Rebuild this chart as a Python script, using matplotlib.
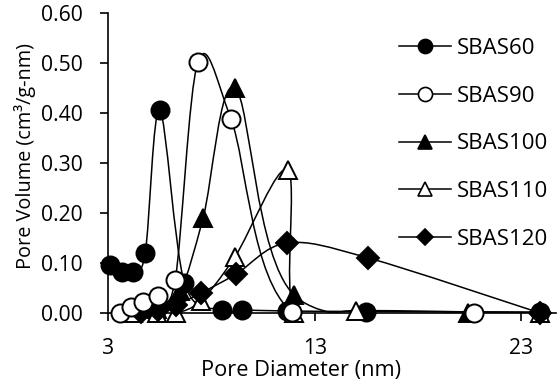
import numpy as np
import matplotlib
matplotlib.use("Agg")
import matplotlib.pyplot as plt
from matplotlib.path import Path
from matplotlib.patches import PathPatch
from matplotlib.lines import Line2D

plt.rcParams['font.family'] = ['Open Sans', 'DejaVu Sans']

# ---- data ----
d60 = [3.1, 3.66, 4.2, 4.8, 5.5, 6.7, 8.5, 9.5, 11.65, 15.5, 23.9]
v60 = [0.096, 0.083, 0.083, 0.12, 0.406, 0.06, 0.006, 0.006, 0.004, 0.003, 0.002]

d90 = [3.6, 4.1, 4.7, 5.4, 6.25, 7.35, 8.95, 11.9, 20.7]
v90 = [0.0, 0.012, 0.022, 0.034, 0.066, 0.502, 0.388, 0.002, 0.0]

d100 = [3.9, 4.6, 5.35, 6.5, 7.6, 9.15, 12.0, 20.4]
v100 = [0.003, 0.012, 0.008, 0.045, 0.19, 0.45, 0.036, 0.0]

d110 = [4.2, 5.35, 6.3, 7.5, 9.15, 11.7, 12.0, 15.0, 23.9]
v110 = [0.0, 0.0, 0.0, 0.025, 0.113, 0.286, 0.0, 0.005, 0.0]

d120 = [4.6, 5.4, 6.3, 7.5, 9.2, 11.65, 15.6, 23.9]
v120 = [0.003, 0.006, 0.016, 0.04, 0.078, 0.14, 0.11, 0.0]

labels = ['SBAS60', 'SBAS90', 'SBAS100', 'SBAS110', 'SBAS120']
xticks = [3, 13, 23]
yticks = [0.0, 0.1, 0.2, 0.3, 0.4, 0.5, 0.6]

series = [(d60, v60), (d90, v90), (d100, v100), (d110, v110), (d120, v120)]
markers = ['o', 'o', '^', '^', 'D']
faces = ['black', 'white', 'black', 'white', 'black']
msizes = [13, 13, 13, 13, 11]
zorders = [2, 7, 3, 4, 5]


def smooth_path(xs, ys):
    pts = np.column_stack([xs, ys]).astype(float)
    n = len(pts)
    verts = [pts[0]]
    codes = [Path.MOVETO]
    for i in range(n - 1):
        p0 = pts[i - 1] if i > 0 else pts[i]
        p1 = pts[i]
        p2 = pts[i + 1]
        p3 = pts[i + 2] if i + 2 < n else pts[i + 1]
        c1 = p1 + (p2 - p0) / 6.0
        c2 = p2 - (p3 - p1) / 6.0
        verts += [c1, c2, p2]
        codes += [Path.CURVE4] * 3
    return Path(verts, codes)


fig = plt.figure(figsize=(5.58, 3.89), dpi=100)
ax = fig.add_axes([108 / 558, (389 - 313) / 389, 448 / 558, 300 / 389])

for (xs, ys), m, fc, ms, z in zip(series, markers, faces, msizes, zorders):
    patch = PathPatch(smooth_path(xs, ys), facecolor='none', edgecolor='black',
                      lw=1.1, transform=ax.transData, zorder=z)
    ax.add_patch(patch)
    ax.plot(xs, ys, linestyle='none', marker=m, markersize=ms,
            markerfacecolor=fc, markeredgecolor='black', markeredgewidth=1.4,
            clip_on=False, zorder=z + 0.5)

ax.set_xlim(3, 24.67)
ax.set_ylim(0, 0.6)
ax.set_xticks(xticks)
ax.set_yticks(yticks)
ax.set_xticklabels([str(t) for t in xticks])
ax.set_yticklabels([f"{t:.2f}" for t in yticks])
for s in ['top', 'right']:
    ax.spines[s].set_visible(False)
for s in ['left', 'bottom']:
    ax.spines[s].set_linewidth(1.2)
ax.tick_params(axis='both', direction='out', length=6, width=1.2, labelsize=15.2, colors='black')
ax.tick_params(axis='y', pad=12)
ax.tick_params(axis='x', pad=12)

ax.set_xlabel('Pore Diameter (nm)', fontsize=15.7, labelpad=1, x=0.43)
ax.set_ylabel('Pore Volume (cm³/g-nm)', fontsize=14.3, labelpad=4, y=0.522)

handles = [Line2D([], [], color='black', lw=1.1, marker=m, markersize=s * 0.78,
                  markerfacecolor=fc, markeredgecolor='black', markeredgewidth=1.2)
           for m, fc, s in zip(markers, faces, msizes)]
leg = ax.legend(handles, labels, loc='upper left', bbox_to_anchor=(399 / 558, 1 - 38 / 389),
                bbox_transform=fig.transFigure, frameon=False, fontsize=16,
                handlelength=2.34, handletextpad=0.27, labelspacing=1.2, borderpad=0,
                borderaxespad=0)

fig.savefig('out.png', dpi=100, facecolor='white')
